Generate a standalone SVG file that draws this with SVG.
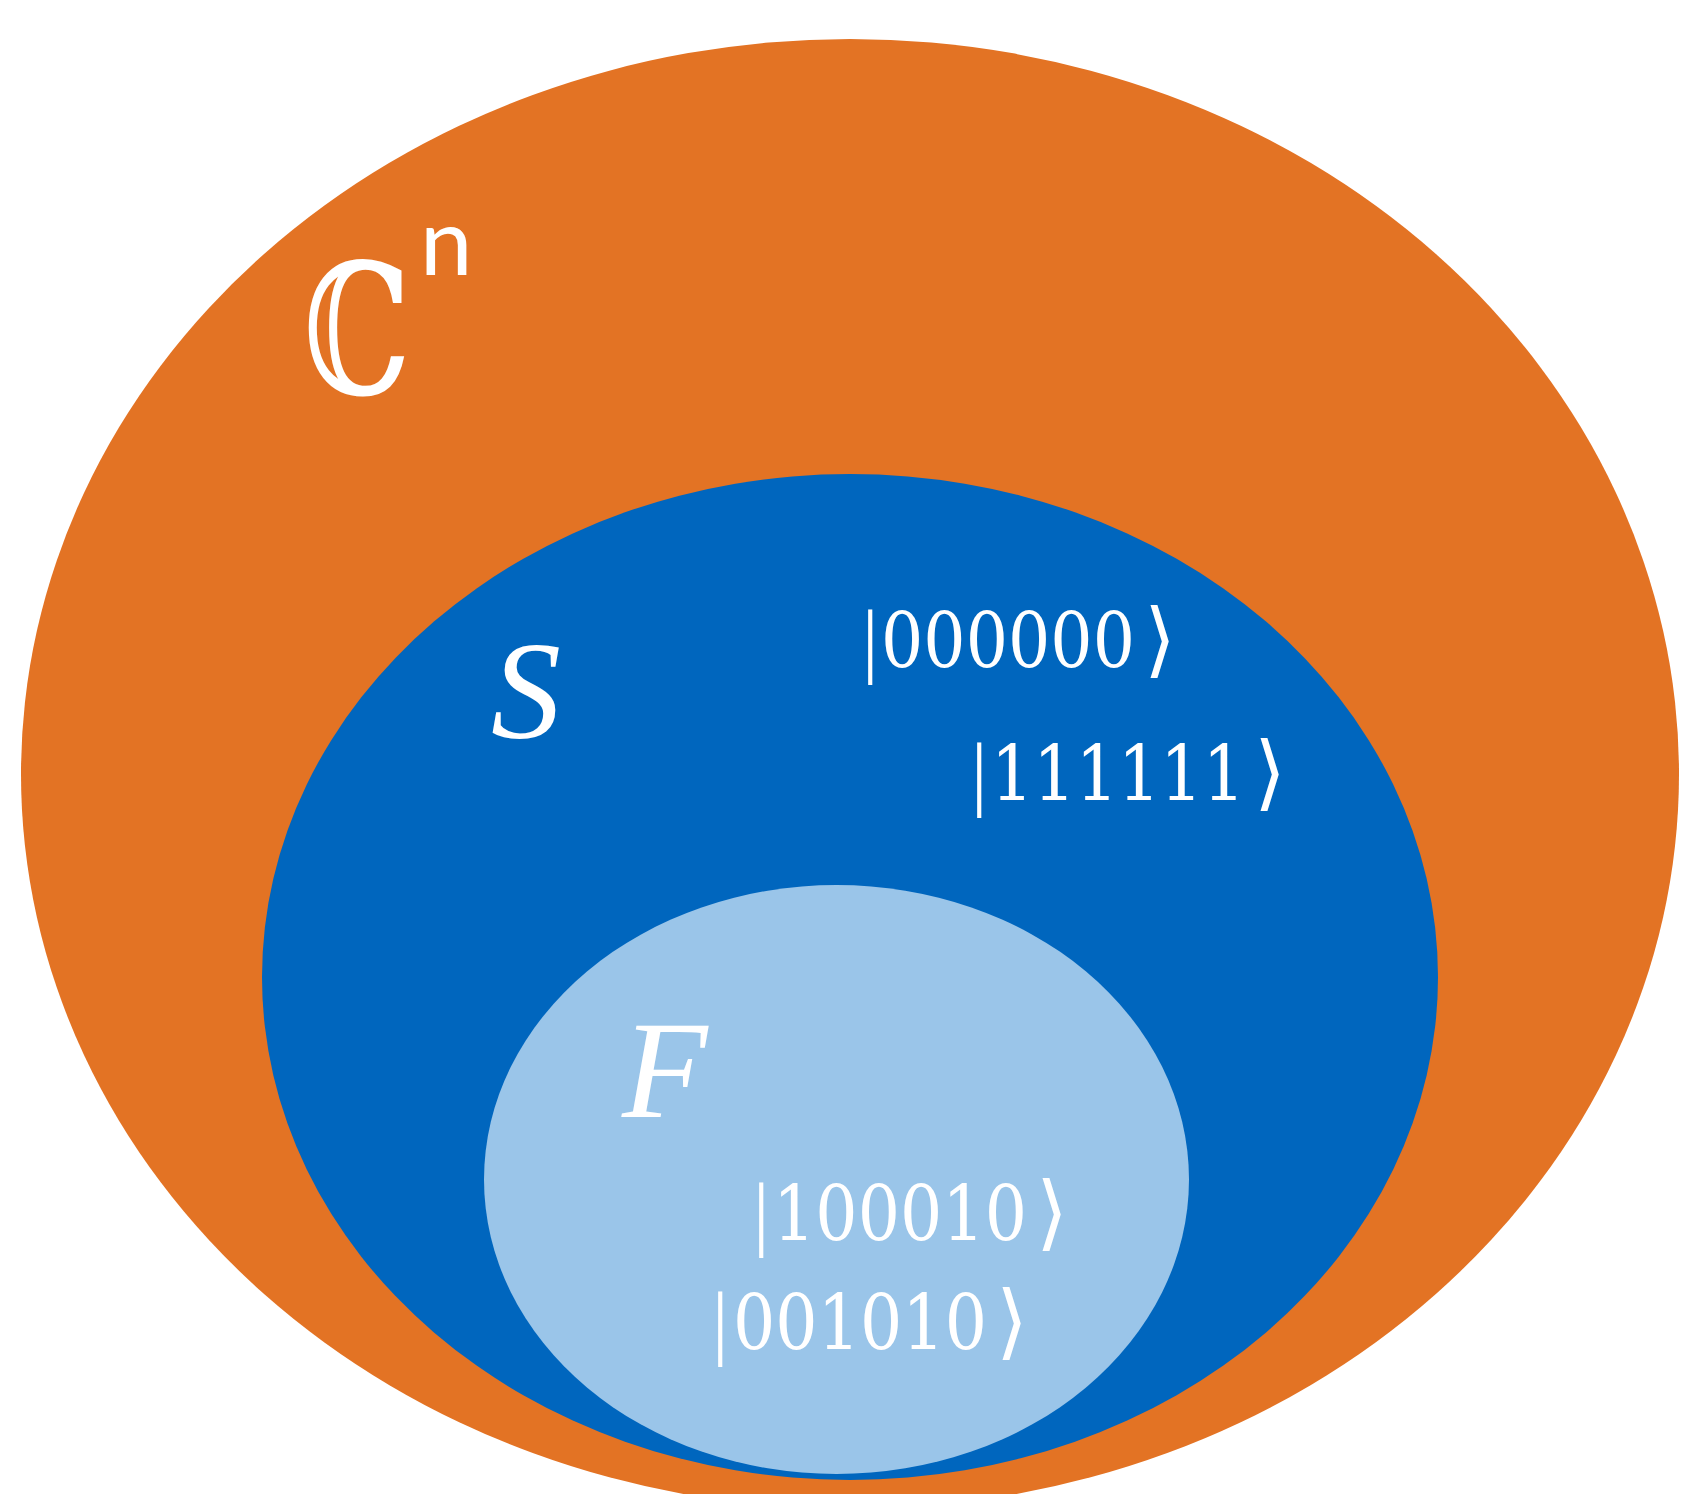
<svg xmlns="http://www.w3.org/2000/svg" width="1684" height="1494" viewBox="0 0 1684 1494">
<style>
.lbl{fill:#ffffff;font-family:"Liberation Serif","DejaVu Serif",serif;}
.ket{fill:#ffffff;font-family:"Liberation Serif","DejaVu Serif","DejaVu Sans",serif;font-size:82px;}
.dg{font-family:"DejaVu Serif",serif;font-size:76px;}
.it{font-style:italic;font-size:140px;}
</style>
<rect x="0" y="0" width="1684" height="1494" fill="#ffffff"/>
<g id="set-Cn">
<ellipse cx="850" cy="774" rx="829" ry="735" fill="#E37324"/>
<text class="lbl" x="303" y="394" font-family="DejaVu Serif" font-size="182" textLength="108" lengthAdjust="spacingAndGlyphs">ℂ</text>
<text x="420" y="275" fill="#ffffff" font-family="Lato, 'Liberation Sans', sans-serif" font-size="94">n</text>
</g>
<g id="set-S">
<ellipse cx="850" cy="977" rx="588" ry="503" fill="#0066BE"/>
<text class="lbl it" x="491" y="738">S</text>
<text class="ket" x="862" y="667">|<tspan class="dg" x="881" textLength="254" lengthAdjust="spacingAndGlyphs">000000</tspan><tspan x="1144">⟩</tspan></text>
<text class="ket" x="971" y="800">|<tspan class="dg" x="991" textLength="254" lengthAdjust="spacingAndGlyphs">111111</tspan><tspan x="1254">⟩</tspan></text>
</g>
<g id="set-F">
<ellipse cx="836.5" cy="1179.5" rx="352.5" ry="294.5" fill="#9AC5E9"/>
<text class="lbl it" x="622" y="1117">F</text>
<text class="ket" x="753" y="1240">|<tspan class="dg" x="773" textLength="254" lengthAdjust="spacingAndGlyphs">100010</tspan><tspan x="1036">⟩</tspan></text>
<text class="ket" x="712" y="1349">|<tspan class="dg" x="733" textLength="254" lengthAdjust="spacingAndGlyphs">001010</tspan><tspan x="996">⟩</tspan></text>
</g>
<g id="connectors"/>
</svg>
